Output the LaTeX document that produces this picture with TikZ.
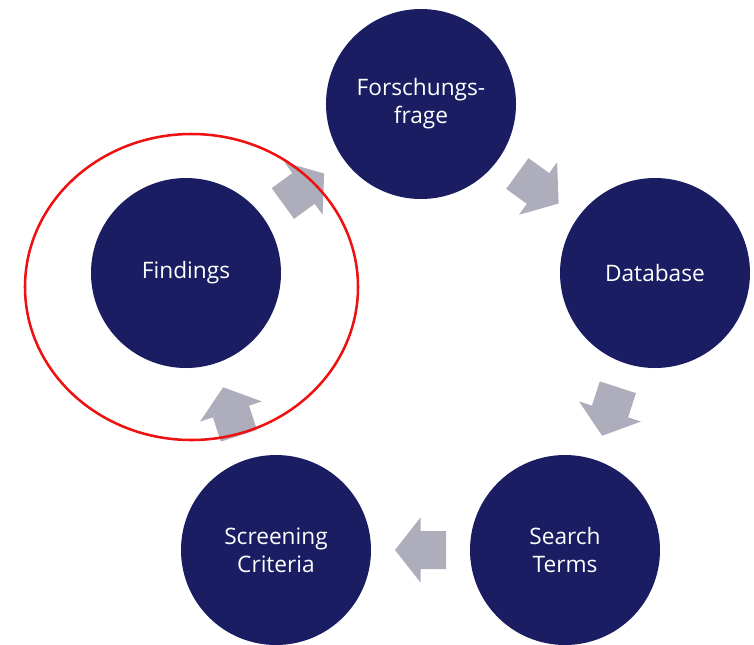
\documentclass[tikz,border=0pt]{standalone}
\usepackage{fontspec}
\setmainfont{Open Sans}
\usetikzlibrary{calc,shapes.geometric}
\definecolor{navy}{HTML}{1A1D61}
\definecolor{arrgray}{HTML}{ADADBB}
\definecolor{ringred}{HTML}{EE1111}
\tikzset{
  stage/.style={circle, fill=navy, draw=none, minimum size=142.5pt, inner sep=0pt,
    text=white, align=center, font=\fontsize{17}{21}\selectfont},
  blockarrow/.style={fill=arrgray, draw=none},
}
\begin{document}
\begin{tikzpicture}[x=0.75pt,y=-0.75pt]
\useasboundingbox (0,0) rectangle (754,644);
\node[stage] (F)  at (421,104) {Forschungs-\\frage};
\node[stage] (D)  at (655,273) {Database};
\node[stage] (S)  at (565,550) {Search\\Terms};
\node[stage] (C)  at (276,550) {Screening\\Criteria};
\node[stage] (Fi) at (186,273) {Findings};
\coordinate (a1) at ($(F)!0.5!(D)$);
\coordinate (a2) at ($(D)!0.5!(S)$);
\coordinate (a3) at ($(S)!0.5!(C)$);
\coordinate (a4) at ($(C)!0.5!(Fi)$);
\coordinate (a5) at ($(Fi)!0.5!(F)$);
\foreach \c/\ang in {a1/-36, a2/-108, a3/180, a4/108, a5/36}{
  \path[blockarrow, shift={(\c)}, rotate=\ang]
    (-25.5,19) -- (0,19) -- (0,32.5) -- (25.5,0) -- (0,-32.5) -- (0,-19) -- (-25.5,-19) -- cycle;
}
\node[draw=ringred, line width=1.9pt, ellipse, minimum width=249.75pt, minimum height=229.5pt, inner sep=0pt] (ring) at (191.5,287) {};
\end{tikzpicture}
\end{document}
